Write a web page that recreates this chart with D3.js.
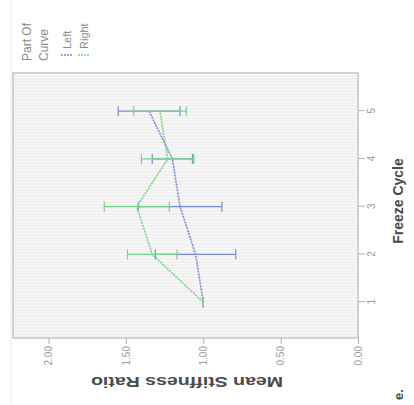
<!DOCTYPE html>
<html>
<head>
<meta charset="utf-8">
<script src="https://cdn.jsdelivr.net/npm/d3@7"></script>
<style>
  body { margin: 0; background: #fff; }
  svg { display: block; font-family: "Liberation Sans", Arial, sans-serif; }
</style>
</head>
<body>
<div id="chart"></div>
<script>
// Data
const cycles = [1, 2, 3, 4, 5];
const leftMean = [1.0, 1.05, 1.15, 1.2, 1.35];
const leftErr = [0, 0.26, 0.27, 0.13, 0.2];
const rightMean = [1.0, 1.33, 1.43, 1.23, 1.28];
const rightErr = [0, 0.16, 0.21, 0.17, 0.17];
const valueTicks = [0, 0.5, 1, 1.5, 2];
const seriesNames = ["Left", "Right"];
const legendTitle = ["Part Of", "Curve"];

const width = 414;
const height = 405;
const colors = ["#7c8bd6", "#78d486"];

const svg = d3
  .select("#chart")
  .append("svg")
  .attr("width", width)
  .attr("height", height);

// the figure is drawn upright, then turned a quarter turn to the left
const g = svg
  .append("g")
  .attr("transform", `translate(0,${height}) rotate(-90)`);

const plot = { left: 67, right: 332, top: 13, bottom: 358 };

const xScale = d3
  .scaleLinear()
  .domain([0.25, 5.8])
  .range([plot.left, plot.right]);

const yScale = d3
  .scaleLinear()
  .domain([0, 2.23])
  .range([plot.bottom, plot.top]);

// faint outer line
g.append("line")
  .attr("x1", 0)
  .attr("x2", height)
  .attr("y1", 11)
  .attr("y2", 11)
  .attr("stroke", "#ececec");

// plot background with the striped look
g.append("rect")
  .attr("x", plot.left)
  .attr("y", plot.top)
  .attr("width", plot.right - plot.left)
  .attr("height", plot.bottom - plot.top)
  .attr("fill", "#f8f8f8");

g.selectAll(".stripe")
  .data(d3.range(plot.left + 1, plot.right, 3))
  .join("line")
  .attr("class", "stripe")
  .attr("x1", (d) => d)
  .attr("x2", (d) => d)
  .attr("y1", plot.top)
  .attr("y2", plot.bottom)
  .attr("stroke", "#e9e9e9")
  .attr("stroke-width", 1);

g.append("rect")
  .attr("x", plot.left)
  .attr("y", plot.top)
  .attr("width", plot.right - plot.left)
  .attr("height", plot.bottom - plot.top)
  .attr("fill", "none")
  .attr("stroke", "#c4c4c4")
  .attr("stroke-width", 1.5);

// axes
const yAxis = g
  .append("g")
  .attr("transform", `translate(${plot.left},0)`)
  .call(
    d3.axisLeft(yScale)
      .tickValues(valueTicks)
      .tickFormat(d3.format(".2f"))
      .tickSize(6)
      .tickPadding(2)
  );

const xAxis = g
  .append("g")
  .attr("transform", `translate(0,${plot.bottom})`)
  .call(
    d3.axisBottom(xScale)
      .tickValues(cycles)
      .tickFormat(d3.format("d"))
      .tickSize(7)
      .tickPadding(3)
  );

[yAxis, xAxis].forEach((ax) => {
  ax.select(".domain").remove();
  ax.selectAll(".tick line").attr("stroke", "#b0b0b0");
  ax.selectAll(".tick text")
    .attr("fill", "#9a9a9a")
    .style("font-size", "10px")
    .style("font-family", "Liberation Sans, Arial, sans-serif");
});

// axis titles
g.append("text")
  .attr("transform", `translate(28,187) rotate(-90)`)
  .attr("text-anchor", "middle")
  .attr("textLength", 192)
  .attr("lengthAdjust", "spacingAndGlyphs")
  .style("font-size", "14px")
  .style("font-weight", "bold")
  .attr("fill", "#4a4a4a")
  .text("Mean Stiffness Ratio");

g.append("text")
  .attr("x", 204)
  .attr("y", 403)
  .attr("text-anchor", "middle")
  .style("font-size", "14px")
  .style("font-weight", "bold")
  .attr("fill", "#4a4a4a")
  .text("Freeze Cycle");

g.append("text")
  .attr("x", 5)
  .attr("y", 403)
  .style("font-size", "13px")
  .style("font-weight", "bold")
  .attr("fill", "#4a4a4a")
  .text("e.");

// series: error bars first, then the mean lines
const series = [
  { name: seriesNames[0], mean: leftMean, err: leftErr, color: colors[0] },
  { name: seriesNames[1], mean: rightMean, err: rightErr, color: colors[1] },
];

const line = d3
  .line()
  .x((d) => xScale(d.cycle))
  .y((d) => yScale(d.value));

series.forEach((s) => {
  const pts = cycles.map((c, i) => ({
    cycle: c,
    value: s.mean[i],
    lo: s.mean[i] - s.err[i],
    hi: s.mean[i] + s.err[i],
  }));

  const bars = g.append("g").attr("stroke", s.color).attr("stroke-width", 1.2);

  bars.selectAll(".bar")
    .data(pts)
    .join("line")
    .attr("x1", (d) => xScale(d.cycle))
    .attr("x2", (d) => xScale(d.cycle))
    .attr("y1", (d) => yScale(d.lo))
    .attr("y2", (d) => yScale(d.hi));

  ["lo", "hi"].forEach((k) => {
    bars.selectAll(".cap-" + k)
      .data(pts)
      .join("line")
      .attr("x1", (d) => xScale(d.cycle) - 5)
      .attr("x2", (d) => xScale(d.cycle) + 5)
      .attr("y1", (d) => yScale(d[k]))
      .attr("y2", (d) => yScale(d[k]));
  });

  g.append("path")
    .datum(pts)
    .attr("fill", "none")
    .attr("stroke", s.color)
    .attr("stroke-width", 1.6)
    .attr("stroke-dasharray", "2 1")
    .attr("d", line);
});

// legend (top right of the upright figure)
const legend = g.append("g").style("font-size", "12px").attr("fill", "#8a8a8a");

legendTitle.forEach((t, i) => {
  legend.append("text")
    .attr("x", 344)
    .attr("y", 31 + i * 17)
    .text(t);
});

series.forEach((s, i) => {
  const oy = 61 + i * 17;
  legend.append("line")
    .attr("x1", 350)
    .attr("x2", 350)
    .attr("y1", oy)
    .attr("y2", oy + 12)
    .attr("stroke", s.color)
    .attr("stroke-width", 1.5)
    .attr("stroke-dasharray", "2 1");
  legend.append("text")
    .attr("x", 356)
    .attr("y", oy + 10)
    .style("font-size", "11px")
    .text(s.name);
});
</script>
</body>
</html>
